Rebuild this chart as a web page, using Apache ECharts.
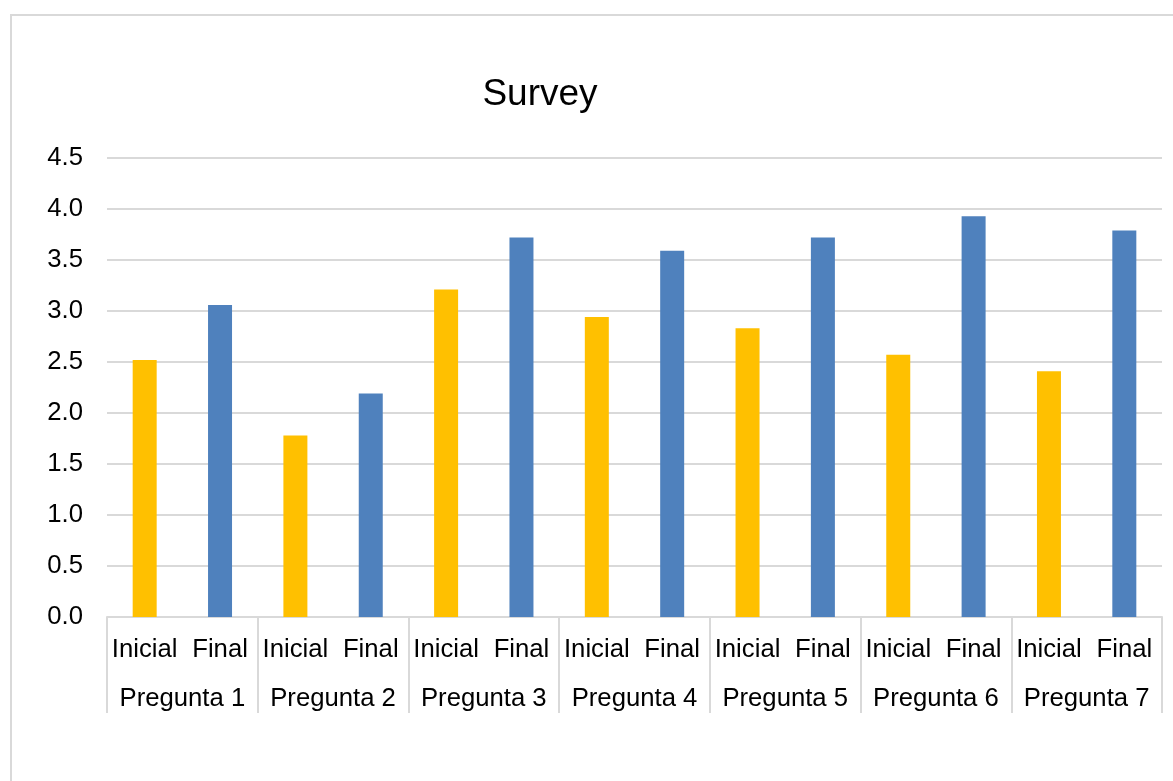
<!DOCTYPE html>
<html>
<head>
<meta charset="utf-8">
<script src="https://cdn.jsdelivr.net/npm/echarts@6/dist/echarts.min.js"></script>
<style>
html,body{margin:0;padding:0;background:#fff;}
#chart{width:1173px;height:781px;}
</style>
</head>
<body>
<div id="chart"></div>
<script>
const groups = ['Pregunta 1','Pregunta 2','Pregunta 3','Pregunta 4','Pregunta 5','Pregunta 6','Pregunta 7'];
const subLabels = ['Inicial','Final'];
const inicial = [2.52, 1.78, 3.21, 2.94, 2.83, 2.57, 2.41];
const final = [3.06, 2.19, 3.72, 3.59, 3.72, 3.93, 3.79];
const yTicks = [0, 0.5, 1.0, 1.5, 2.0, 2.5, 3.0, 3.5, 4.0, 4.5];

const COLOR_INI = '#FFC000';
const COLOR_FIN = '#4F81BD';

const cats = [];
const data = [];
groups.forEach((g, i) => {
  cats.push(subLabels[0]);
  data.push({ value: inicial[i], itemStyle: { color: COLOR_INI } });
  cats.push(subLabels[1]);
  data.push({ value: final[i], itemStyle: { color: COLOR_FIN } });
});

const FONT = 'Liberation Sans, Arial, sans-serif';
const chart = echarts.init(document.getElementById('chart'), null, { renderer: 'canvas' });
chart.setOption({
  animation: false,
  backgroundColor: '#fff',
  title: {
    text: 'Survey',
    left: 535,
    top: 71,
    textAlign: 'center',
    textStyle: { fontFamily: FONT, fontSize: 37, fontWeight: 'normal', color: '#000' }
  },
  graphic: [{
    type: 'rect',
    shape: { x: 11, y: 15, width: 1300, height: 900 },
    style: { fill: null, stroke: '#d9d9d9', lineWidth: 2 },
    silent: true, z: -10
  }],
  grid: { left: 107, right: 11, top: 158, bottom: 164, containLabel: false },
  xAxis: [{
    type: 'category',
    data: cats,
    position: 'bottom',
    axisLine: { show: true, lineStyle: { color: '#d9d9d9', width: 2 } },
    axisTick: { show: false },
    axisLabel: { interval: 0, margin: 20, fontFamily: FONT, fontSize: 25.7, color: '#000' },
    splitLine: { show: false }
  }, {
    type: 'category',
    data: groups,
    position: 'bottom',
    axisLine: { show: false },
    axisTick: { show: true, interval: 0, length: 96, lineStyle: { color: '#d9d9d9', width: 2 } },
    axisLabel: { interval: 0, margin: 69, fontFamily: FONT, fontSize: 25.7, color: '#000' },
    splitLine: { show: false }
  }],
  yAxis: {
    type: 'value',
    min: yTicks[0],
    max: yTicks[yTicks.length - 1],
    interval: 0.5,
    axisLine: { show: false },
    axisTick: { show: false },
    axisLabel: {
      margin: 24, fontFamily: FONT, fontSize: 25.7, color: '#000',
      formatter: v => v.toFixed(1)
    },
    splitLine: { lineStyle: { color: '#d9d9d9', width: 2 } }
  },
  series: [{
    type: 'bar',
    xAxisIndex: 0,
    data: data,
    barWidth: 24
  }]
});
</script>
</body>
</html>
